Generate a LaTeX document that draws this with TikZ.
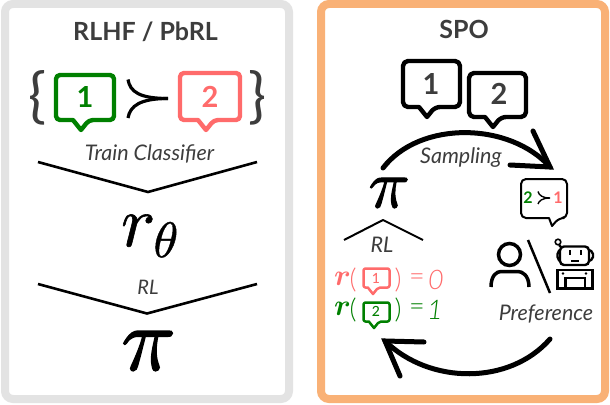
\documentclass[tikz,border=0pt]{standalone}
\usepackage{fix-cm}
\usepackage{amsmath}
\usepackage{fontspec}
\setmainfont{Lato}
\newfontfamily\latol{Lato Light}
\newfontfamily\latom{Lato Medium}
\newfontfamily\mathbold[FakeBold=1.6]{Latin Modern Math}
\newfontfamily\mathlight[FakeBold=0.8]{Latin Modern Math}
\font\boldr=cmmib10 at 30pt
\definecolor{ink}{HTML}{3D3D3D}
\definecolor{gborder}{HTML}{E3E3E3}
\definecolor{oborder}{HTML}{F9B176}
\definecolor{gr}{HTML}{008000}
\definecolor{rd}{HTML}{FF6B6B}
\newcommand{\fs}[1]{\fontsize{#1}{#1}\selectfont}
% x1 y1 x2 y2 tipx tipy radius
\newcommand{\bubble}[8][]{%
 \draw[#1,line join=round,rounded corners=#8pt]
   (#2,#3) -- (#4,#3) -- (#4,#5) -- ({#6+0.8*(#7-#5)},#5) [sharp corners] -- (#6,#7) -- ({#6-0.8*(#7-#5)},#5) [rounded corners=#8pt] -- (#2,#5) -- cycle;}
\tikzset{
 panel/.style={line width=8pt,rounded corners=8pt},
 chev/.style={line width=2.6pt,line join=round},
 big/.style={line width=5pt,line cap=round,line join=miter},
 title/.style={text=ink,font=\bfseries\fs{25}},
 captext/.style={text=ink,font=\itshape\fs{21.5}},
 digit/.style={font=\bfseries\fs{29}},
 rob/.style={line width=2.4pt},
}
\begin{document}
\begin{tikzpicture}[x=1pt,y=-1pt]
\useasboundingbox (0,0) rectangle (610,404);
\fill[white] (0,0) rectangle (610,404);
\draw[panel,gborder] (5,4) rectangle (289,399);
\draw[panel,oborder] (321,4) rectangle (605,399);

% left panel
\node[title] (tl) at (145.5,32) {RLHF / PbRL};
\node[text=ink,font=\fs{60}] (bl) at (38,98) {\{};
\node[text=ink,font=\fs{60}] (br) at (258,98) {\}};
\bubble[gr,line width=4.4pt]{56}{75}{114}{120}{81}{130}{4}
\bubble[rd,line width=4.4pt]{180}{73}{240}{120}{206}{130}{4}
\node[digit,text=gr] (n1) at (85,97) {1};
\node[digit,text=rd] (n2) at (210,97) {2};
\draw[line width=3.2pt] (128,79.5) .. controls (130,92) and (140,98.5) .. (168,98.5);
\draw[line width=3.2pt] (128,118) .. controls (130,106) and (140,98.5) .. (168,98.5);
\node[captext] (tc) at (149.5,154) {Train Classifier};
\draw[chev] (38,162) -- (148,192) -- (257,162);
\node[font=\mathlight] (rt) at (149,236) {\fs{72}𝑟\raisebox{-11pt}{\fs{50}𝜃}};
\draw[chev] (38,284) -- (147,313.5) -- (257,284);
\node[captext,font=\itshape\fs{20}] (rl1) at (148,287) {RL};
\node[font=\mathbold\fs{90}] (p1) at (147,351) {𝜋};

% right panel
\node[title] (tr) at (464,29) {SPO};
\bubble[black,line width=4.4pt]{403}{61}{460}{107}{427}{117}{5}
\bubble[black,line width=4.4pt]{469}{73}{526}{117}{493}{127}{5}
\node[digit,text=ink] (m1) at (431,84) {1};
\node[digit,text=ink] (m2) at (499,94) {2};
\coordinate (as) at (383,168);
\coordinate (ae) at (550,167);
\draw[big] (as) .. controls (420,120) and (510,122) .. (ae);
\draw[big] (533,131) -- (ae) -- (510,165);
\node[captext] (sa) at (461,158) {Sampling};
\node[font=\mathbold\fs{68}] (p2) at (388,193) {𝜋};
\draw[chev,line width=2pt] (344,240) -- (383,220) -- (423,240);
\node[captext] (rl2) at (382,245) {RL};

% formulas
\node[text=rd] (r1) at (342,279) {\boldr r};
\node[text=rd,font=\latol\fs{27}] (lp1) at (353,280) {(};
\bubble[rd,line width=2.5pt]{363.5}{268.5}{389.5}{287.5}{373}{294}{2}
\node[text=rd,font=\latom\fs{14}] (s1) at (376,278) {1};
\node[text=rd,font=\latol\fs{27}] (rp1) at (398,280) {)};
\node[text=rd,font=\latol\fs{27}] (eq1) at (417,280) {=};
\node[text=rd,font=\latol\itshape\fs{27}] (v0) at (436,280) {0};
\node[text=gr] (r2) at (342,309) {\boldr r};
\node[text=gr,font=\latol\fs{27}] (lp2) at (353,310) {(};
\bubble[gr,line width=2.5pt]{363.5}{302.5}{389.5}{321.5}{374}{328}{2}
\node[text=gr,font=\latom\fs{14}] (s2) at (376,311) {2};
\node[text=gr,font=\latol\fs{27}] (rp2) at (398,310) {)};
\node[text=gr,font=\latol\fs{27}] (eq2) at (417,310) {=};
\node[text=gr,font=\latol\itshape\fs{27}] (v1) at (435,310) {1};

% small preference bubble
\draw[line width=2pt,line join=round,rounded corners=5pt] (521,179) -- (567,179) -- (567,218) -- (559,218) [sharp corners] -- (552,226) -- (549,218) [rounded corners=5pt] -- (521,218) -- cycle;
\node[text=gr,font=\bfseries\fs{16}] (d2) at (528,198) {2};
\node[text=rd,font=\bfseries\fs{16}] (d1) at (558,198) {1};
\draw[line width=1.4pt] (538,191.5) .. controls (539,195) and (542,198) .. (550,198);
\draw[line width=1.4pt] (538,204) .. controls (539,201) and (542,198) .. (550,198);

% person
\draw[line width=3.5pt] (509.5,254.5) circle (11);
\draw[line width=3.5pt] (491,287) .. controls (491,275) and (497,271.5) .. (501,271.5) -- (518,271.5) .. controls (522,271.5) and (529,275) .. (529,287);
\draw[line width=2.5pt] (528,240) -- (550,293);

% robot
\draw[rob,rounded corners=4pt] (560,246.5) rectangle (589,265);
\draw[rob,rounded corners=2pt] (560,250) -- (557.5,252) -- (557.5,259) -- (560,261);
\draw[rob,rounded corners=2pt] (589,250) -- (593,252) -- (593,259) -- (589,261);
\draw[line width=1.6pt] (558,242) circle (2.8);
\draw[rob] (559,245) -- (562,248);
\draw[rob] (570,250) -- (570,255);
\draw[rob] (581,250) -- (581,255);
\draw[rob] (571,261) -- (579,261);
\draw[rob] (557.5,270) rectangle (592.5,288.5);
\draw[rob] (565.5,278) rectangle (585,288.5);
\fill (563,273.5) circle (1.4);
\fill (586,273.5) circle (1.4);
\node[captext] (pf) at (546,314) {Preference};

% lower arrow
\coordinate (bs) at (550,339);
\coordinate (be) at (385,341);
\draw[big] (bs) .. controls (510,385) and (430,385) .. (be);
\draw[big] (424,342) -- (be) -- (400,376);
\end{tikzpicture}
\end{document}
